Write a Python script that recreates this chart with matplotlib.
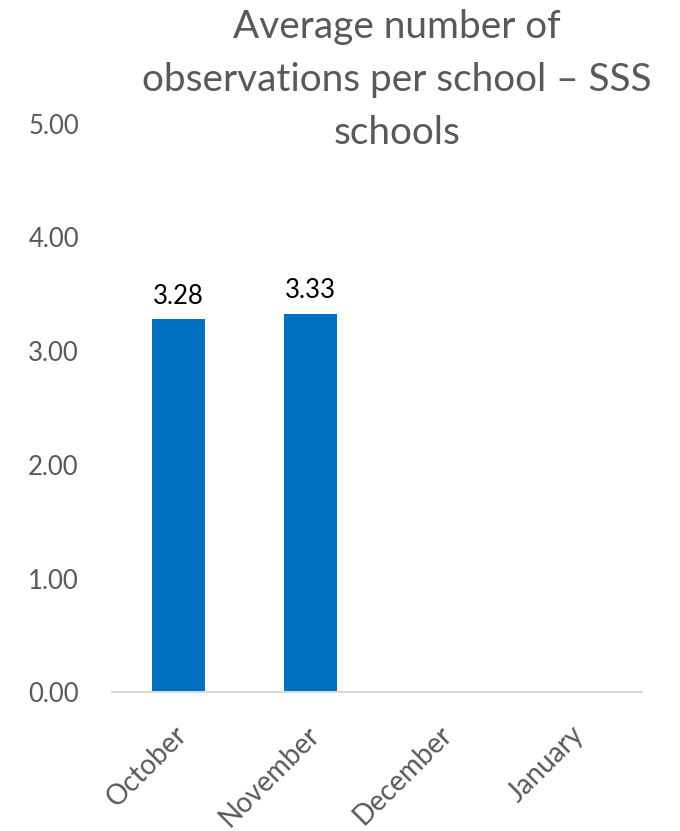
import numpy as np
import matplotlib
matplotlib.use("Agg")
import matplotlib.pyplot as plt
import matplotlib.transforms as mtransforms

plt.rcParams['font.family'] = ['Lato', 'DejaVu Sans']

# data
months = ['October', 'November', 'December', 'January']
avg_obs = [3.28, 3.33, np.nan, np.nan]
y_ticks = [0, 1, 2, 3, 4, 5]
title_lines = ['Average number of', 'observations per school – SSS', 'schools']

BAR_COLOR = '#0070C0'
TEXT_GRAY = '#595959'

fig = plt.figure(figsize=(6.8, 8.31), dpi=100)
ax = fig.add_axes([0.165, 0.167, 0.779, 0.684])

x = np.arange(len(months))
vals = np.nan_to_num(avg_obs)
ax.bar(x, vals, width=0.4, color=BAR_COLOR, zorder=2)

# value labels above the bars that have data
for xi, v in zip(x, avg_obs):
    if not np.isnan(v):
        ax.annotate(f"{v:.2f}", (xi, v), xytext=(0, 11), textcoords='offset points',
                    ha='center', va='baseline', fontsize=18.5, color='black')

ax.set_xlim(-0.5, len(months) - 0.5)
ax.set_ylim(0, 5)
ax.set_yticks(y_ticks)
ax.set_yticklabels([f"{t:.2f}" for t in y_ticks])
ax.set_xticks(x)
ax.set_xticklabels(months, rotation=45, ha='right', rotation_mode='anchor', fontsize=20)

ax.tick_params(axis='y', length=0, labelsize=18.5, colors=TEXT_GRAY, pad=24)
ax.tick_params(axis='x', length=0, colors=TEXT_GRAY, pad=21)

# nudge month labels a little to the left
shift = mtransforms.ScaledTranslation(-5 / 100, 0, fig.dpi_scale_trans)
for lbl in ax.get_xticklabels():
    lbl.set_transform(lbl.get_transform() + shift)

for side in ['left', 'right', 'top']:
    ax.spines[side].set_visible(False)
ax.spines['bottom'].set_color('#D9D9D9')
ax.spines['bottom'].set_linewidth(1.5)

# title, one line at a time; the widest line spans roughly 142..652 px in the reference
title_texts = []
for i, line in enumerate(title_lines):
    t = fig.text(0.584, 1 - (38 + 53 * i) / 831, line, ha='center', va='baseline',
                 fontsize=29, color=TEXT_GRAY)
    title_texts.append(t)

fig.canvas.draw()
renderer = fig.canvas.get_renderer()
w = max(t.get_window_extent(renderer).width for t in title_texts)
scale = 510 / w
for t in title_texts:
    t.set_fontsize(29 * scale)

fig.savefig('out.png', dpi=100)
